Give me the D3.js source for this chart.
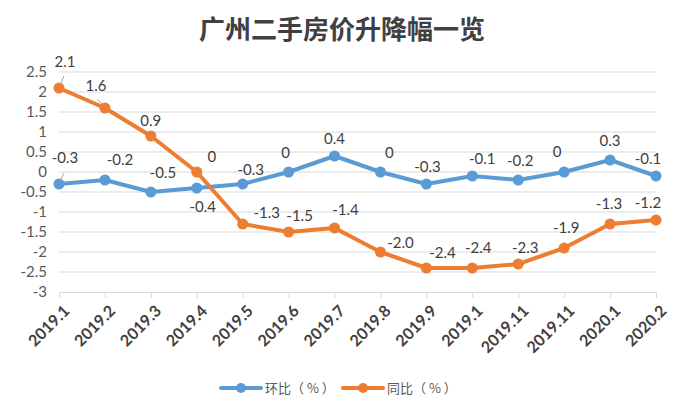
<!DOCTYPE html>
<html><head><meta charset="utf-8">
<script src="https://cdn.jsdelivr.net/npm/d3@7/dist/d3.min.js"></script>
<style>body{margin:0;background:#fff;}svg{display:block;font-family:"Noto Sans CJK SC","Open Sans",sans-serif;}</style>
</head><body>
<svg id="c" width="685" height="415"></svg>
<script>
const categories = ["2019.1","2019.2","2019.3","2019.4","2019.5","2019.6","2019.7","2019.8","2019.9","2019.1","2019.11","2019.11","2020.1","2020.2"];
const momValues = [-0.3,-0.2,-0.5,-0.4,-0.3,0,0.4,0,-0.3,-0.1,-0.2,0,0.3,-0.1];
const yoyValues = [2.1,1.6,0.9,0,-1.3,-1.5,-1.4,-2.0,-2.4,-2.4,-2.3,-1.9,-1.3,-1.2];
const momLabels = ["-0.3","-0.2","-0.5","-0.4","-0.3","0","0.4","0","-0.3","-0.1","-0.2","0","0.3","-0.1"];
const yoyLabels = ["2.1","1.6","0.9","0","-1.3","-1.5","-1.4","-2.0","-2.4","-2.4","-2.3","-1.9","-1.3","-1.2"];
const yTicks = [2.5,2,1.5,1,0.5,0,-0.5,-1,-1.5,-2,-2.5,-3];
const seriesNames = ["环比（ % ）","同比（ % ）"];
const title = "广州二手房价升降幅一览";

// label offsets (layout only)
const momOff = [[6,-26],[15,-20],[12,-19],[6,19],[8,-14],[-3,-19],[0,-17],[9,-19],[1,-17],[10,-17],[2,-19],[-7,-20],[0,-19],[-8,-17]];
const yoyOff = [[6,-26],[-9,-22],[0,-15],[15,-15],[24,-11],[11,-16],[11,-18],[20,-9],[16,-15],[6,-20],[7,-16],[2,-20],[-1,-20],[-8,-17]];

const svg = d3.select("#c");
const x = d3.scalePoint().domain(d3.range(categories.length)).range([59,656]);
const y = d3.scaleLinear().domain([-3,2.5]).range([292,72]);
const blue="#5B9BD5", orange="#ED7D31";
const numFont = "Lato, 'Open Sans', sans-serif";

svg.append("text").attr("x",342).attr("y",39).attr("text-anchor","middle")
  .attr("font-size",26).attr("font-weight","bold").attr("fill","#404040").text(title);

// grid
svg.append("g").selectAll("line").data(yTicks.filter(t=>t!==-3)).join("line")
  .attr("x1",59).attr("x2",656).attr("y1",d=>y(d)).attr("y2",d=>y(d))
  .attr("stroke","#d9d9d9").attr("stroke-width",1);

// y axis labels
const ya = svg.append("g").attr("transform","translate(59,0)")
  .call(d3.axisLeft(y).tickValues(yTicks).tickSize(0).tickPadding(12).tickFormat(d=>String(d)));
ya.select(".domain").remove();
ya.selectAll("text").attr("font-size",15).attr("fill","#595959").attr("font-family",numFont);

// x axis
const xa = svg.append("g").attr("transform",`translate(0,${y(-3)})`)
  .call(d3.axisBottom(x).tickSize(6).tickFormat(i=>categories[i]));
xa.select(".domain").attr("stroke","#d9d9d9").attr("d","M59,0.5H656");
xa.selectAll(".tick line").attr("stroke","#d9d9d9");
xa.selectAll("text").attr("font-size",16).attr("font-weight","bold").attr("fill","#404040")
  .attr("font-family",numFont)
  .attr("text-anchor","end").attr("transform","translate(7,16) rotate(-45)").attr("dy","0.35em").attr("y",0).attr("x",0);

function drawSeries(vals, color){
  const line = d3.line().x((d,i)=>x(i)).y(d=>y(d));
  svg.append("path").datum(vals).attr("d",line).attr("fill","none")
    .attr("stroke",color).attr("stroke-width",4).attr("stroke-linejoin","round").attr("stroke-linecap","round");
  svg.append("g").selectAll("circle").data(vals).join("circle")
    .attr("cx",(d,i)=>x(i)).attr("cy",d=>y(d)).attr("r",5.5).attr("fill",color);
}
drawSeries(momValues, blue);
drawSeries(yoyValues, orange);

function drawLabels(vals, labels, off){
  const g = svg.append("g");
  g.selectAll("text").data(vals).join("text")
    .attr("x",(d,i)=>x(i)+off[i][0]).attr("y",(d,i)=>y(d)+off[i][1])
    .attr("dy","0.35em").attr("text-anchor","middle").attr("font-size",15).attr("fill","#404040")
    .attr("font-family",numFont)
    .text((d,i)=>labels[i]);
}
drawLabels(momValues, momLabels, momOff);
drawLabels(yoyValues, yoyLabels, yoyOff);

// leader lines
const leaders = [[0, yoyValues, [1,-3],[5,-12]],[1, yoyValues,[-2,-3],[-8,-9]],[0, momValues,[1,-3],[5,-11]]];
leaders.forEach(([i,vals,a,b])=>{
  svg.append("line").attr("x1",x(i)+a[0]).attr("y1",y(vals[i])+a[1]).attr("x2",x(i)+b[0]).attr("y2",y(vals[i])+b[1])
    .attr("stroke","#a6a6a6").attr("stroke-width",1);
});

// legend
const leg = [{name:seriesNames[0],color:blue,x:221},{name:seriesNames[1],color:orange,x:343}];
leg.forEach(l=>{
  const g = svg.append("g");
  g.append("line").attr("x1",l.x).attr("x2",l.x+40).attr("y1",388).attr("y2",388).attr("stroke",l.color).attr("stroke-width",4).attr("stroke-linecap","round");
  g.append("circle").attr("cx",l.x+20).attr("cy",388).attr("r",5).attr("fill",l.color);
  g.append("text").attr("x",l.x+44).attr("y",388).attr("dy","0.35em").attr("font-size",13).attr("fill","#595959")
    .style("white-space","pre").text(l.name);
});
</script>
</body></html>
